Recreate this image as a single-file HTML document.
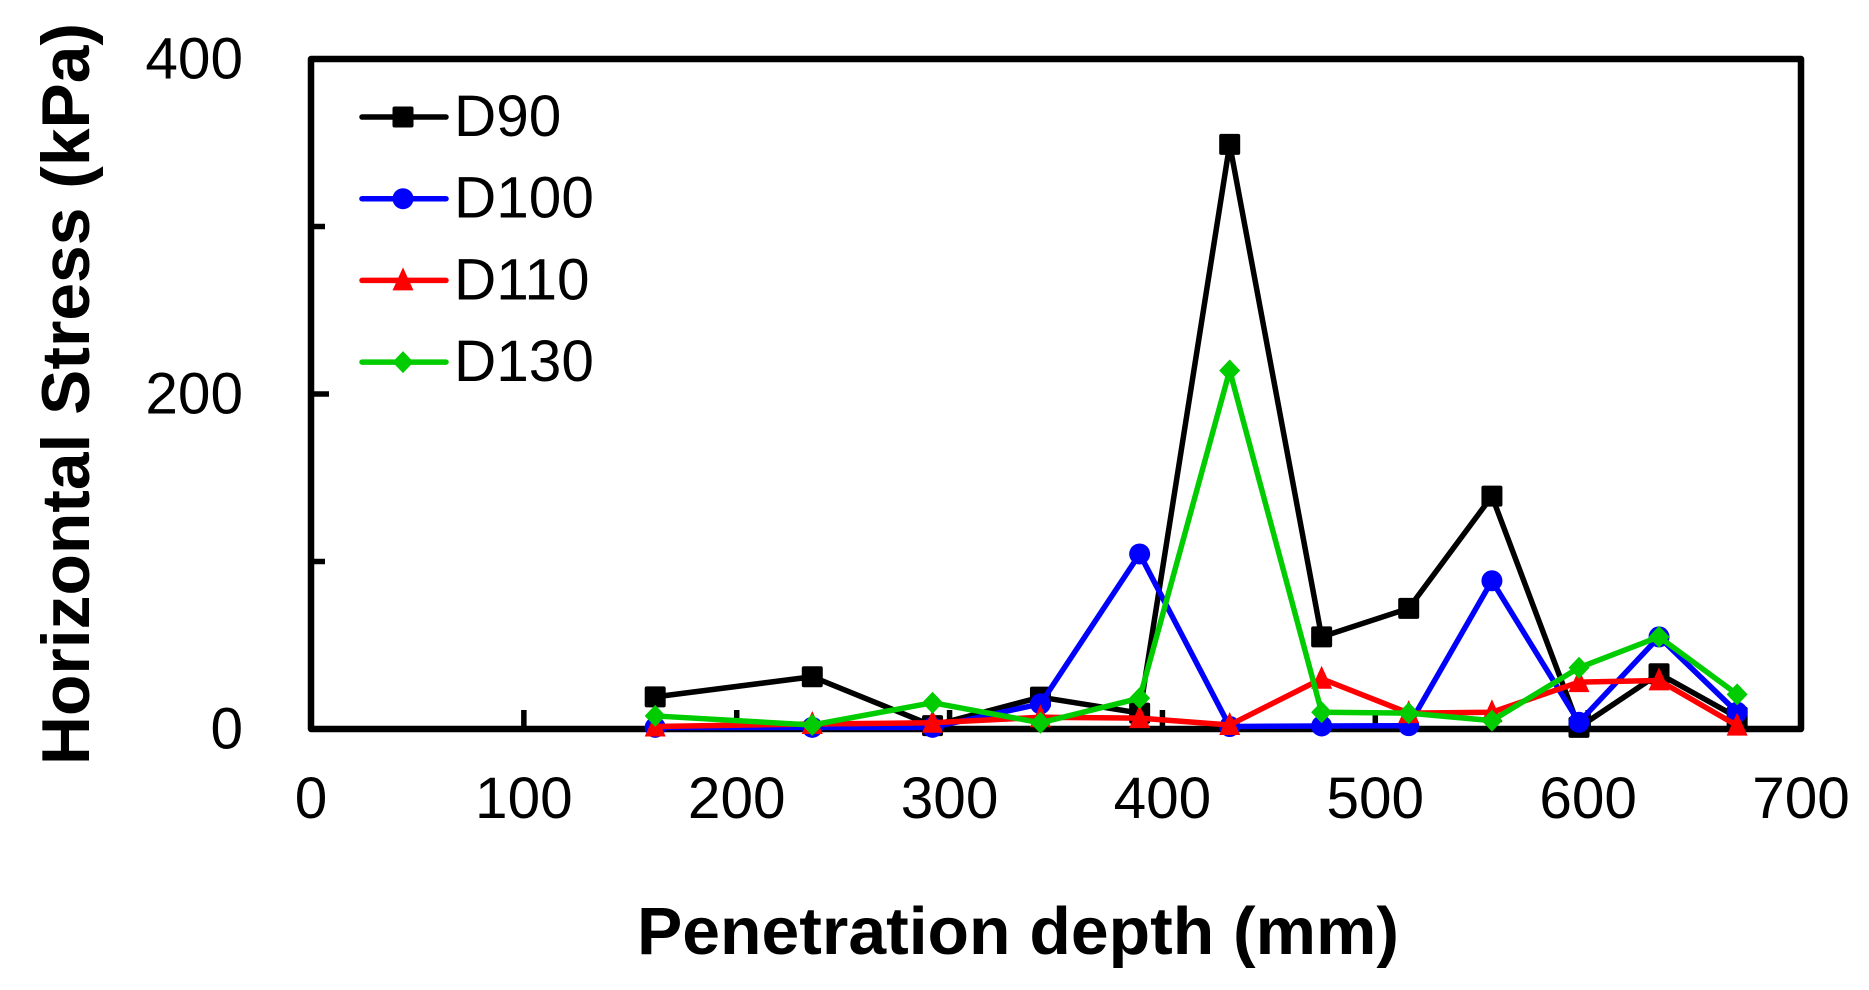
<!DOCTYPE html>
<html lang="en">
<head>
<meta charset="utf-8">
<title>Horizontal Stress vs Penetration Depth</title>
<style>
html,body{margin:0;padding:0;background:#fff;}
svg{display:block;}
text{font-family:"Liberation Sans",Arial,sans-serif;fill:#000;}
</style>
</head>
<body>
<svg id="chart" xmlns="http://www.w3.org/2000/svg" width="1869" height="990" viewBox="0 0 1869 990">
  <rect x="0" y="0" width="1869" height="990" fill="#fff"/>
  <rect x="311" y="59" width="1490" height="670" fill="none" stroke="#000" stroke-width="6.5" stroke-linejoin="round"/>
  <g id="ticks"></g>
  <g id="ticklabels"></g>
  <g id="series"></g>
  <g id="legend"></g>
  <text x="637" y="954" font-size="67" font-weight="700" textLength="762" lengthAdjust="spacingAndGlyphs">Penetration depth (mm)</text>
  <text transform="translate(89,765) rotate(-90)" x="0" y="0" font-size="68" font-weight="700" textLength="742" lengthAdjust="spacingAndGlyphs">Horizontal Stress (kPa)</text>
</svg>
<script>
const depths = [161.7, 235.5, 292, 342.7, 389.3, 431.6, 474.8, 515.7, 554.8, 595.7, 633.3, 670];
const d90Values = [19.2, 31.2, 2, 19, 9.5, 349, 55, 72, 139, 1, 33, 7];
const d100Values = [1, 1, 1, 15, 104.5, 1.5, 1.8, 2, 88.5, 4, 55, 10];
const d110Values = [1.5, 3, 3.7, 7, 6.5, 2.4, 30, 9.5, 10, 28, 29, 2];
const d130Values = [7.8, 2.4, 15.7, 3.7, 18.4, 214, 10, 9.5, 5, 36.6, 55, 20.7];
const xTickLabels = [0, 100, 200, 300, 400, 500, 600, 700];
const yMinorTicks = [100, 300];
const yTickLabels = [0, 200, 400];
const seriesNames = ["D90", "D100", "D110", "D130"];

const NS = "http://www.w3.org/2000/svg";
function xScale(v) { return 311 + v * (1801 - 311) / 700; }
function yScale(v) { return 729 - v * (729 - 59) / 400; }

function make(tag, attrs, parent) {
  const el = document.createElementNS(NS, tag);
  for (const k in attrs) el.setAttribute(k, attrs[k]);
  parent.appendChild(el);
  return el;
}

function drawMarker(kind, cx, cy, color, parent) {
  let el;
  if (kind === "square") {
    el = make("rect", { x: cx - 10.5, y: cy - 10.5, width: 21, height: 21, rx: 2, fill: color }, parent);
  } else if (kind === "circle") {
    el = make("circle", { cx: cx, cy: cy, r: 10.5, fill: color }, parent);
  } else if (kind === "triangle") {
    el = make("polygon", { points: (cx) + "," + (cy - 13) + " " + (cx + 10.5) + "," + (cy + 10) + " " + (cx - 10.5) + "," + (cy + 10), fill: color }, parent);
  } else {
    el = make("polygon", { points: (cx) + "," + (cy - 11) + " " + (cx + 10.5) + "," + (cy) + " " + (cx) + "," + (cy + 11) + " " + (cx - 10.5) + "," + (cy), fill: color }, parent);
  }
  return el;
}

const tickGroup = document.getElementById("ticks");
const labelGroup = document.getElementById("ticklabels");

xTickLabels.forEach(function (v) {
  if (v > 0 && v < 700) {
    const t = make("line", { x1: xScale(v), x2: xScale(v), y1: 729, y2: 710, stroke: "#000", "stroke-width": 5.5 }, tickGroup);
    
    
  }
  const l = make("text", { x: xScale(v), y: 818, "font-size": 58.5, "text-anchor": "middle" }, labelGroup);
  
  
  l.textContent = v;
});

yTickLabels.forEach(function (v) {
  if (v > 0 && v < 400) {
    const t = make("line", { x1: 311, x2: 329, y1: yScale(v), y2: yScale(v), stroke: "#000", "stroke-width": 5.5 }, tickGroup);
    
    
  }
  const l = make("text", { x: 243, y: yScale(v) + 19.5, "font-size": 58.5, "text-anchor": "end" }, labelGroup);
  
  
  l.textContent = v;
});

yMinorTicks.forEach(function (v) {
  const t = make("line", { x1: 311, x2: 325, y1: yScale(v), y2: yScale(v), stroke: "#000", "stroke-width": 5.5 }, tickGroup);
  
  
});

const seriesValues = [d90Values, d100Values, d110Values, d130Values];
const seriesColors = ["#000000", "#0000ff", "#ff0000", "#00cc00"];
const seriesMarkers = ["square", "circle", "triangle", "diamond"];
const seriesGroup = document.getElementById("series");
const legendGroup = document.getElementById("legend");

seriesNames.forEach(function (name, i) {
  const values = seriesValues[i];
  const color = seriesColors[i];
  const kind = seriesMarkers[i];

  const g = make("g", {}, seriesGroup);
  
  

  const pts = depths.map(function (d, j) { return xScale(d) + "," + yScale(values[j]); }).join(" ");
  const line = make("polyline", { points: pts, fill: "none", stroke: color, "stroke-width": 5.5, "stroke-linejoin": "round" }, g);
  
  

  depths.forEach(function (d, j) {
    const m = drawMarker(kind, xScale(d), yScale(values[j]), color, g);
    
    
  });

  const ly = 117 + i * 81.7;
  const entry = make("g", {}, legendGroup);
  
  

  const swatch = make("line", { x1: 362, x2: 446, y1: ly, y2: ly, stroke: color, "stroke-width": 5.5, "stroke-linecap": "round" }, entry);
  
  

  const lm = drawMarker(kind, 403, ly, color, entry);
  
  

  const txt = make("text", { x: 454, y: ly + 19, "font-size": 58.5 }, entry);
  
  
  txt.textContent = name;
});
</script>
</body>
</html>
